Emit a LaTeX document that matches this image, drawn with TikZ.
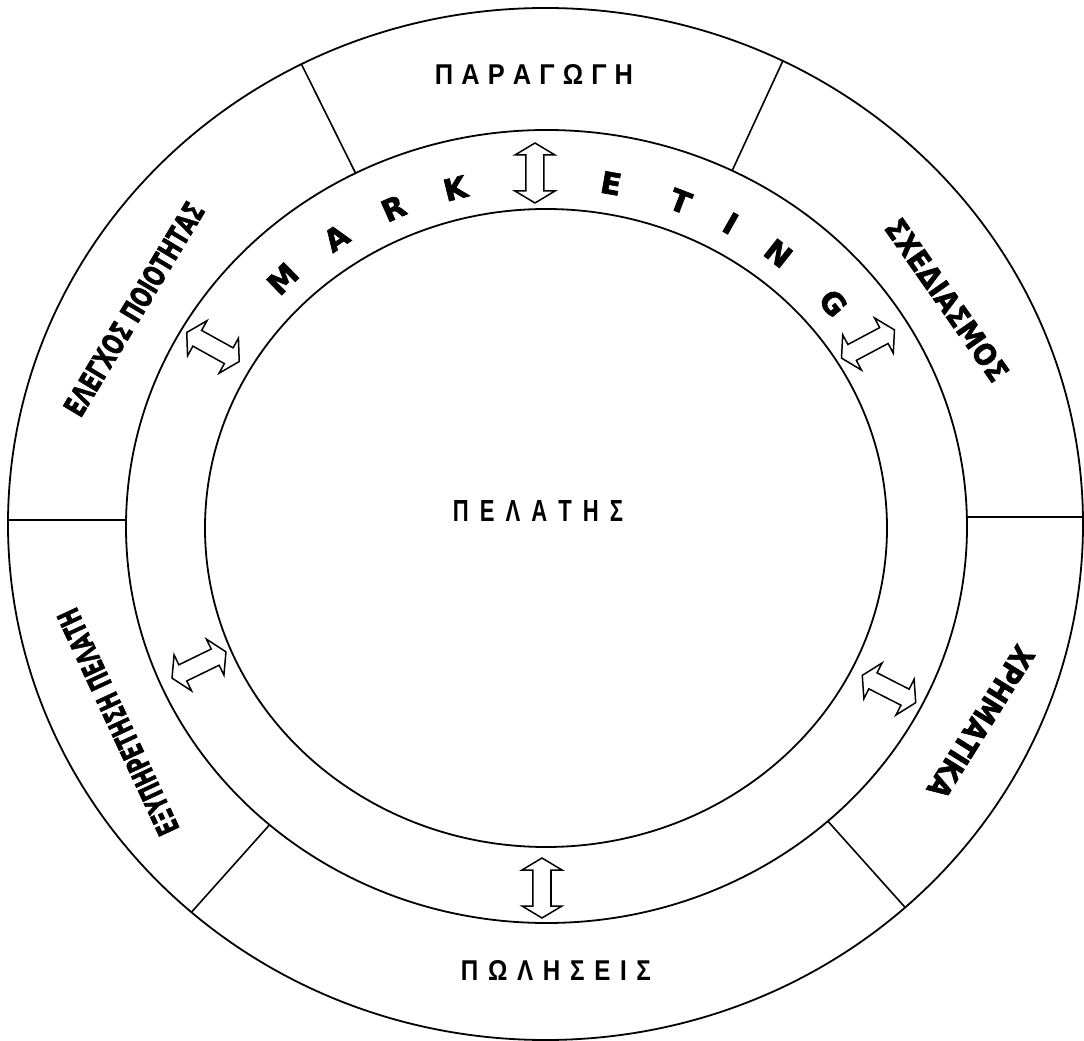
\documentclass[tikz,border=0pt]{standalone}
\usepackage{fontspec}
\usepackage{graphicx}
\setmainfont{Liberation Sans}
\newfontfamily\heavyfont[BoldFeatures={FakeBold=2}]{DejaVu Sans}
\newfontfamily\blackfont[BoldFeatures={FakeBold=2}]{DejaVu Sans}
\tikzset{
  ring/.style={line width=1.8pt},
  sepline/.style={line width=1.6pt},
  arrowline/.style={line width=1.5pt, fill=white, line join=miter},
  dblarr/.pic={\draw[arrowline] (-30,0) -- (-18,20) -- (-18,9) -- (18,9) -- (18,20) -- (30,0) -- (18,-20) -- (18,-9) -- (-18,-9) -- (-18,-20) -- cycle;},
  lbl/.style={inner sep=0pt},
  mk/.style={inner sep=0pt, font=\fontsize{30}{30}\blackfont\bfseries},
}
\newcommand\lsp[1]{\hspace{#1em}}
\newcommand\fitlbl[3]{\resizebox{#1pt}{#2pt}{#3}}
\begin{document}
\begin{tikzpicture}[x=1pt,y=1pt]
\useasboundingbox (-546,-513) rectangle (538,528);
% rings
\draw[ring] (-0.5,4) ellipse [x radius=537.5pt, y radius=516pt];
\draw[ring] (0.5,1.5) ellipse [x radius=420.5pt, y radius=396.5pt];
\draw[ring] (0,0) ellipse [x radius=341pt, y radius=319pt];
% separators
\foreach \t/\n in {117/a, 63.8/b, 228.8/e, -48/f} {
  \coordinate (mi\n) at ([shift={(0.5,1.5)}]\t:420.5 and 396.5);
  \coordinate (ou\n) at ([shift={(-0.5,4)}]\t:537.5 and 516);
  \draw[sepline] (mi\n) -- (ou\n);
}
\coordinate (mic) at (-420,8);
\coordinate (ouc) at (-538,8);
\coordinate (mid) at (421,11);
\coordinate (oud) at (537,11);
\draw[sepline] (mic) -- (ouc);
\draw[sepline] (mid) -- (oud);
% MARKETING
\foreach \t/\c/\i in {134.6/M/1, 124/A/2, 114/R/3, 104/K/4, 80/E/5, 69/T/6, 60.5/I/7, 51.7/N/8, 40/G/9}
  \node[mk, rotate=\t-90] (mk\i) at (\t:375 and 350) {\c};
% arrows
\pic[rotate=90] (arT) at (-11,355) {dblarr};
\pic[rotate=90] (arB) at (-4,-360) {dblarr};
\pic[rotate=-29] (arUL) at (-333,181) {dblarr};
\pic[rotate=28] (arUR) at (322,184) {dblarr};
\pic[rotate=26] (arLL) at (-347,-137) {dblarr};
\pic[rotate=-27] (arLR) at (343,-161) {dblarr};
% labels
\node[lbl] (parag) at (-12,453) {\fitlbl{198}{20}{\bfseries Π\lsp{.32}Α\lsp{.32}Ρ\lsp{.32}Α\lsp{.32}Γ\lsp{.32}Ω\lsp{.32}Γ\lsp{.32}Η}};
\node[lbl] (polis) at (10,-442) {\fitlbl{190}{20}{\bfseries Π\lsp{.4}Ω\lsp{.4}Λ\lsp{.4}Η\lsp{.4}Σ\lsp{.4}Ε\lsp{.4}Ι\lsp{.4}Σ}};
\node[lbl] (pelat) at (-8,17) {\fitlbl{170}{21}{\bfseries Π\lsp{.5}Ε\lsp{.5}Λ\lsp{.5}Α\lsp{.5}Τ\lsp{.5}Η\lsp{.5}Σ}};
\node[lbl, rotate=59] (elegx) at (-412,219) {\fitlbl{243}{22}{\heavyfont\bfseries ΕΛΕΓΧΟΣ ΠΟΙΟΤΗΤΑΣ}};
\node[lbl, rotate=-55] (sxed) at (401,228) {\fitlbl{191}{22}{\heavyfont\bfseries ΣΧΕΔΙΑΣΜΟΣ}};
\node[lbl, rotate=-122] (xrim) at (435,-194) {\fitlbl{173}{22}{\heavyfont\bfseries ΧΡΗΜΑΤΙΚΑ}};
\node[lbl, rotate=115] (exyp) at (-428,-194) {\fitlbl{246}{22}{\heavyfont\bfseries ΕΞΥΠΗΡΕΤΗΣΗ ΠΕΛΑΤΗ}};
\end{tikzpicture}
\end{document}
